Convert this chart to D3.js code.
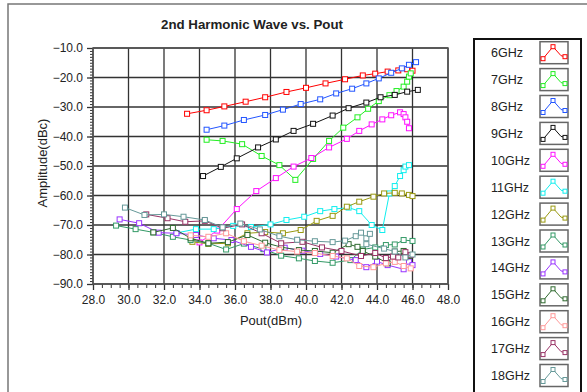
<!DOCTYPE html>
<html>
<head>
<meta charset="utf-8">
<script src="https://cdn.jsdelivr.net/npm/d3@7"></script>
<style>
  body { margin: 0; background: #fff; }
  svg { display: block; }
  text { font-family: "Liberation Sans", Arial, sans-serif; fill: #222; }
</style>
</head>
<body>
<svg id="chart" width="587" height="392"></svg>
<script>
// series names and colours
const freqs = ["6GHz", "7GHz", "8GHz", "9GHz", "10GHz", "11GHz", "12GHz",
  "13GHz", "14GHz", "15GHz", "16GHz", "17GHz", "18GHz"];
const colors = ["#ff0000", "#22ee22", "#2255ff", "#111111", "#ff11ff", "#11eeee", "#999911",
  "#339966", "#9933ff", "#2f6a2f", "#ff9999", "#993366", "#669999"];

// tick labels
const xTicks = [28, 30, 32, 34, 36, 38, 40, 42, 44, 46, 48];
const yTicks = [-10, -20, -30, -40, -50, -60, -70, -80, -90];

// [Pout(dBm), Amplitude(dBc)]
const s6 = [[33.3, -32.3], [34.4, -31.1], [35.4, -29.8], [36.6, -28.2], [37.7, -26.7], [38.9, -24.9],
  [40.0, -23.5], [41.1, -22.0], [42.2, -20.6], [43.2, -19.3], [43.9, -18.7], [44.6, -18.0],
  [45.2, -17.6], [45.7, -17.2], [46.0, -17.7]];
const s7 = [[34.4, -41.1], [35.3, -41.5], [36.4, -42.6], [37.5, -46.6], [38.5, -49.7], [39.4, -54.7],
  [40.4, -47.6], [41.3, -41.5], [42.1, -37.0], [42.9, -33.5], [43.5, -30.6], [44.1, -28.0],
  [44.7, -26.0], [45.1, -24.6], [45.5, -23.1], [45.7, -21.4], [45.8, -19.7], [45.9, -18.6]];
const s8 = [[34.4, -37.7], [35.4, -36.3], [36.5, -34.4], [37.7, -32.7], [38.7, -30.9], [39.7, -29.0],
  [40.8, -27.4], [41.7, -25.4], [42.6, -23.8], [43.4, -22.0], [44.1, -20.3], [44.8, -18.4],
  [45.4, -16.9], [45.8, -15.7], [46.2, -14.8]];
const s9 = [[34.2, -53.4], [35.2, -50.3], [36.1, -47.4], [37.3, -43.7], [38.3, -41.0], [39.3, -38.1],
  [40.4, -35.7], [41.5, -32.9], [42.4, -30.4], [43.4, -28.5], [44.2, -26.7], [45.0, -25.9],
  [45.7, -24.8], [46.3, -24.2]];
const s10 = [[34.0, -75.9], [35.0, -71.9], [36.1, -64.6], [37.2, -58.5], [38.3, -54.1], [39.3, -50.2],
  [40.3, -47.3], [41.3, -43.7], [42.3, -40.8], [43.0, -38.1], [43.7, -35.9], [44.3, -34.2],
  [44.8, -32.8], [45.3, -31.8], [45.5, -32.4], [45.6, -33.5], [45.7, -35.0], [45.8, -37.2]];
const s11 = [[32.7, -72.7], [33.8, -71.4], [34.8, -71.4], [35.9, -70.3], [36.9, -70.7], [38.0, -69.8],
  [38.9, -68.3], [39.9, -67.2], [40.8, -65.3], [41.6, -64.6], [42.4, -64.1], [43.0, -65.3],
  [43.7, -70.0], [44.3, -71.7], [44.7, -59.3], [45.0, -56.8], [45.3, -53.4], [45.5, -51.4],
  [45.6, -50.2], [45.8, -49.7]];
const s12 = [[33.6, -75.7], [34.5, -76.4], [35.6, -76.2], [36.7, -72.8], [37.7, -72.4], [38.7, -72.8],
  [39.7, -71.7], [40.6, -68.6], [41.5, -66.9], [42.3, -63.8], [43.0, -62.1], [43.8, -60.4],
  [44.4, -59.3], [45.0, -59.1], [45.4, -59.3], [45.8, -59.8], [46.0, -60.2]];
const s13 = [[29.3, -70.2], [30.4, -71.4], [31.4, -72.5], [32.5, -74.0], [33.5, -75.1], [34.5, -76.2],
  [35.5, -78.3], [36.5, -76.3], [37.6, -78.2], [38.6, -80.4], [39.6, -81.3], [40.5, -82.2],
  [41.5, -82.8], [42.5, -81.9], [43.2, -78.3], [43.9, -77.6], [44.5, -76.8], [45.0, -76.6],
  [45.5, -75.1], [46.0, -75.4]];
const s14 = [[29.5, -68.1], [30.6, -69.4], [31.7, -72.6], [32.7, -72.8], [33.8, -73.4], [34.8, -74.5],
  [35.8, -75.1], [36.9, -77.4], [37.8, -79.3], [38.8, -77.7], [39.8, -78.7], [40.8, -79.8],
  [41.7, -80.7], [42.8, -81.9], [43.4, -84.3], [44.0, -82.4], [44.6, -83.6], [45.5, -85.0],
  [45.8, -82.4], [46.0, -83.6]];
const s15 = [[31.4, -72.5], [32.5, -71.0], [33.5, -74.5], [34.5, -76.2], [35.6, -75.8], [36.7, -73.4],
  [37.7, -76.0], [38.6, -77.5], [39.6, -78.5], [40.5, -78.8], [41.5, -79.4], [42.4, -76.5],
  [42.9, -77.4], [43.2, -78.8], [43.9, -80.7], [44.6, -83.0], [45.0, -79.0], [45.5, -78.8],
  [45.8, -80.5]];
const s16 = [[33.5, -73.5], [34.5, -74.0], [35.5, -72.8], [36.5, -75.5], [37.5, -77.0], [38.5, -78.5],
  [39.5, -79.0], [40.5, -79.5], [41.5, -80.5], [42.3, -81.3], [43.0, -83.9], [43.8, -84.3],
  [44.5, -83.0], [45.0, -82.5], [45.5, -83.9], [45.9, -84.7]];
const s17 = [[31.0, -66.4], [32.2, -67.7], [33.2, -68.9], [34.3, -68.6], [35.3, -71.1], [36.4, -69.8],
  [37.5, -72.8], [38.6, -76.2], [39.8, -75.7], [40.9, -77.6], [42.0, -78.8], [43.1, -80.5],
  [43.9, -79.5], [44.5, -81.2], [44.9, -80.7], [45.2, -81.0], [45.6, -79.2], [45.9, -80.2]];
const s18 = [[29.8, -64.1], [30.9, -66.6], [32.0, -66.4], [33.1, -67.2], [34.3, -68.3], [35.3, -70.8],
  [36.3, -69.5], [37.4, -71.5], [38.5, -73.8], [39.5, -75.0], [40.5, -75.5], [41.5, -75.8],
  [42.2, -75.3], [42.8, -73.8], [43.1, -72.6], [43.4, -74.5], [43.6, -73.0], [43.4, -76.5],
  [44.4, -78.0], [45.0, -79.0], [45.6, -81.0], [46.0, -80.0]];

const series = [s6, s7, s8, s9, s10, s11, s12, s13, s14, s15, s16, s17, s18];

const svg = d3.select("#chart");

// plot box
const plotL = 93, plotR = 448, plotT = 48, plotB = 284;

const x = d3.scaleLinear().domain([28, 48]).range([plotL, plotR]);
const y = d3.scaleLinear().domain([-90, -10]).range([plotB, plotT]);

// outer panel frame
svg.append("path")
  .attr("d", "M8,392 L8,4 L587,4")
  .attr("fill", "none")
  .attr("stroke", "#777")
  .attr("stroke-width", 1.5);

// grid
svg.append("g")
  .selectAll("line")
  .data(xTicks)
  .enter()
  .append("line")
  .attr("x1", d => x(d)).attr("x2", d => x(d))
  .attr("y1", plotT).attr("y2", plotB)
  .attr("stroke", "#333").attr("stroke-width", 1.3);

svg.append("g")
  .selectAll("line")
  .data(yTicks)
  .enter()
  .append("line")
  .attr("x1", plotL).attr("x2", plotR)
  .attr("y1", d => y(d)).attr("y2", d => y(d))
  .attr("stroke", "#333").attr("stroke-width", 1.3);

// minor ticks
svg.append("g")
  .attr("transform", "translate(0," + plotB + ")")
  .call(d3.axisBottom(x).tickValues(d3.range(28, 48.01, 0.5)).tickSize(4).tickFormat(""))
  .call(g => g.select(".domain").remove())
  .selectAll("line").attr("stroke", "#333");

svg.append("g")
  .attr("transform", "translate(" + plotL + ",0)")
  .call(d3.axisLeft(y).tickValues(d3.range(-90, -9.99, 1)).tickSize(3).tickFormat(""))
  .call(g => g.select(".domain").remove())
  .selectAll("line").attr("stroke", "#333");

// major ticks + labels
const xAxis = svg.append("g")
  .attr("transform", "translate(0," + plotB + ")")
  .call(d3.axisBottom(x).tickValues(xTicks).tickSize(6).tickPadding(5).tickFormat(d3.format(".1f")));
xAxis.select(".domain").remove();
xAxis.selectAll("line").attr("stroke", "#333").attr("stroke-width", 1.3);
xAxis.selectAll("text").style("font-size", "12px").attr("fill", "#222")
  .style("font-family", '"Liberation Sans", Arial, sans-serif');

const yAxis = svg.append("g")
  .attr("transform", "translate(" + plotL + ",0)")
  .call(d3.axisLeft(y).tickValues(yTicks).tickSize(6).tickPadding(4).tickFormat(d3.format(".1f")));
yAxis.select(".domain").remove();
yAxis.selectAll("line").attr("stroke", "#333").attr("stroke-width", 1.3);
yAxis.selectAll("text").style("font-size", "12px").attr("fill", "#222")
  .style("font-family", '"Liberation Sans", Arial, sans-serif');

// plot frame
svg.append("rect")
  .attr("x", plotL).attr("y", plotT)
  .attr("width", plotR - plotL).attr("height", plotB - plotT)
  .attr("fill", "none").attr("stroke", "#555").attr("stroke-width", 1.5);

// series
const line = d3.line().x(d => x(d[0])).y(d => y(d[1]));

series.forEach((s, i) => {
  const g = svg.append("g");
  g.append("path")
    .datum(s)
    .attr("d", line)
    .attr("fill", "none")
    .attr("stroke", colors[i])
    .attr("stroke-width", 1);
  g.selectAll("rect")
    .data(s)
    .enter()
    .append("rect")
    .attr("x", d => x(d[0]) - 2.5)
    .attr("y", d => y(d[1]) - 2.5)
    .attr("width", 5).attr("height", 5)
    .attr("fill", "#fff")
    .attr("stroke", colors[i])
    .attr("stroke-width", 1);
});

// titles
svg.append("text")
  .attr("x", 252).attr("y", 29)
  .attr("text-anchor", "middle")
  .style("font-size", "13.3px").style("font-weight", "bold")
  .text("2nd Harmonic Wave vs. Pout");

svg.append("text")
  .attr("x", 271).attr("y", 325)
  .attr("text-anchor", "middle")
  .style("font-size", "13px")
  .text("Pout(dBm)");

svg.append("text")
  .attr("transform", "translate(47,163) rotate(-90)")
  .attr("text-anchor", "middle")
  .style("font-size", "13px")
  .text("Amplitude(dBc)");

// legend
svg.append("rect")
  .attr("x", 474).attr("y", 39)
  .attr("width", 107).attr("height", 370)
  .attr("fill", "none").attr("stroke", "#111").attr("stroke-width", 2);

const swatchPts = [[3, 17], [13, 5], [21, 14], [25, 15]];
const swatchMarks = [[3, 17], [13, 5], [25, 15]];

const leg = svg.append("g")
  .selectAll("g")
  .data(freqs)
  .enter()
  .append("g")
  .attr("transform", (d, i) => "translate(0," + (52.7 + i * 26.9) + ")");

leg.append("text")
  .attr("x", 491).attr("y", 4.5)
  .style("font-size", "12.5px")
  .text(d => d);

leg.append("rect")
  .attr("x", 540).attr("y", -11)
  .attr("width", 28).attr("height", 22)
  .attr("fill", "#fff").attr("stroke", "#666").attr("stroke-width", 1.5);

leg.append("path")
  .attr("d", "M" + swatchPts.map(p => (540 + p[0]) + "," + (-11 + p[1])).join("L"))
  .attr("fill", "none")
  .attr("stroke", (d, i) => colors[i]);

leg.each(function(d, i) {
  d3.select(this).selectAll("rect.m")
    .data(swatchMarks)
    .enter()
    .append("rect")
    .attr("class", "m")
    .attr("x", p => 540 + p[0] - 2).attr("y", p => -11 + p[1] - 2)
    .attr("width", 4).attr("height", 4)
    .attr("fill", "#fff").attr("stroke", colors[i]);
});
</script>
</body>
</html>
